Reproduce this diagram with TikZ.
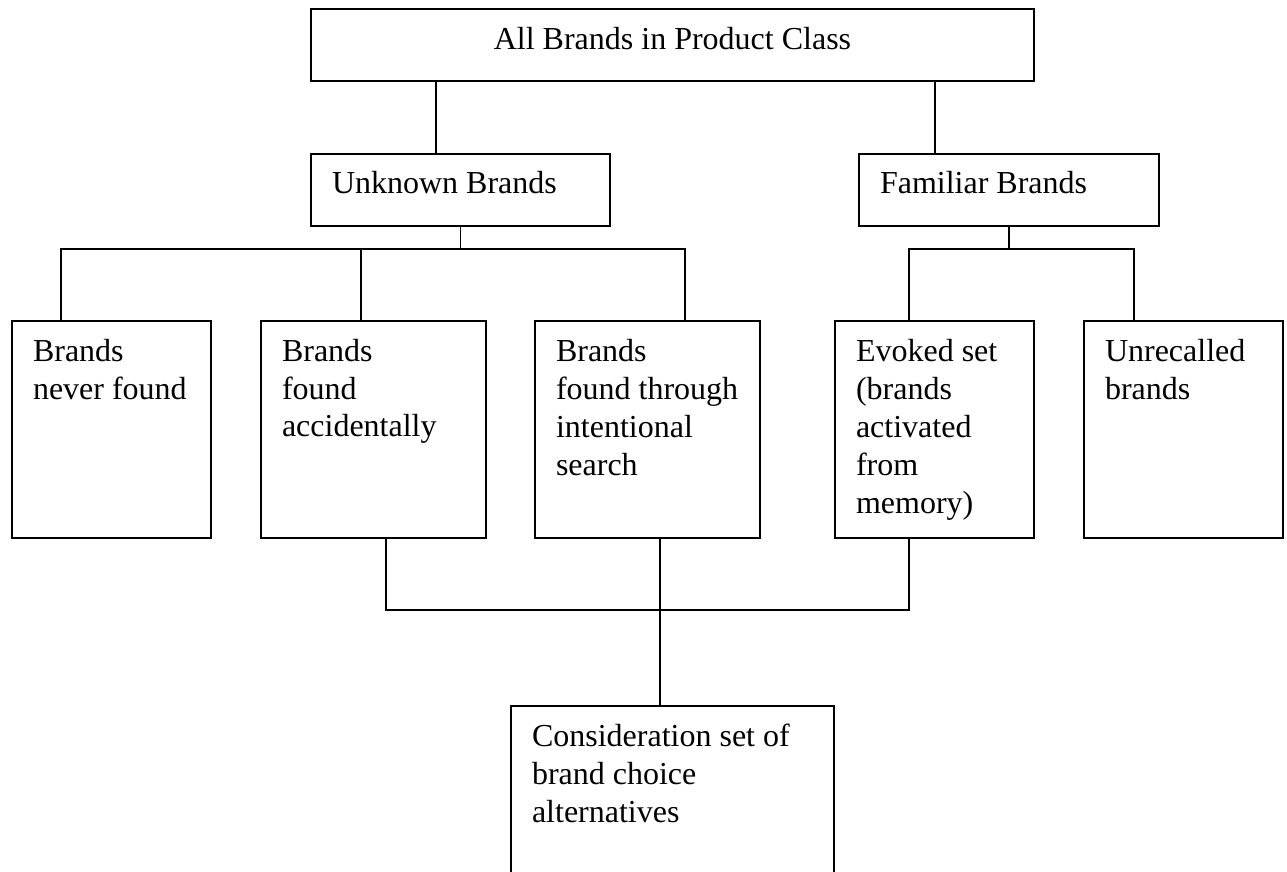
\documentclass[tikz,border=0pt]{standalone}
\usepackage{fontspec}
\setmainfont{Liberation Serif}
\usetikzlibrary{calc}
\tikzset{
  box/.style={draw, line width=0.9pt, inner sep=0, outer sep=0, anchor=north west},
  txt/.style={inner sep=0, outer sep=0, align=left, font=\fontsize{16}{19}\selectfont},
  conn/.style={line width=0.9pt}
}
\begin{document}
\begin{tikzpicture}[x=0.5pt, y=-0.5pt]
\useasboundingbox (0,0) rectangle (1287,872);
\fill[white] (0,0) rectangle (1287,872);
\clip (0,0) rectangle (1287,872);

% boxes
\node[box, minimum width=361.5pt, minimum height=36pt] (top) at (311,9) {};
\node[box, minimum width=149.5pt, minimum height=36pt] (un) at (311,154) {};
\node[box, minimum width=150pt, minimum height=36pt] (fa) at (859,154) {};
\node[box, minimum width=99.5pt, minimum height=108.5pt] (b1) at (12,321) {};
\node[box, minimum width=112.5pt, minimum height=108.5pt] (b2) at (261,321) {};
\node[box, minimum width=112.5pt, minimum height=108.5pt] (b3) at (535,321) {};
\node[box, minimum width=99.5pt, minimum height=108.5pt] (b4) at (835,321) {};
\node[box, minimum width=99.5pt, minimum height=108.5pt] (b5) at (1084,321) {};
\node[box, minimum width=161.5pt, minimum height=110pt] (cs) at (511,706) {};

% texts
\node[txt, anchor=base] (topt) at ($(top.north)+(0,41)$) {All Brands in Product Class};
\node[txt, anchor=north west] (unt) at ($(un.north west)+(21,13.4)$) {\strut Unknown Brands};
\node[txt, anchor=north west] (fat) at ($(fa.north west)+(21,13.4)$) {\strut Familiar Brands};
\node[txt, anchor=north west] (b1t) at ($(b1.north west)+(21,13.4)$) {\strut Brands\\never found};
\node[txt, anchor=north west] (b2t) at ($(b2.north west)+(21,13.4)$) {\strut Brands\\found\\accidentally};
\node[txt, anchor=north west] (b3t) at ($(b3.north west)+(21,13.4)$) {\strut Brands\\found through\\intentional\\search};
\node[txt, anchor=north west] (b4t) at ($(b4.north west)+(21,13.4)$) {\strut Evoked set\\(brands\\activated\\from\\memory)};
\node[txt, anchor=north west] (b5t) at ($(b5.north west)+(21,13.4)$) {\strut Unrecalled\\brands};
\node[txt, anchor=north west] (cst) at ($(cs.north west)+(21,13.4)$) {\strut Consideration set of\\brand choice\\alternatives};

% junction coordinates
\coordinate (tU) at (436,117);
\coordinate (tF) at (935,117);
\coordinate (uL) at (61,249);
\coordinate (uM) at (361,249);
\coordinate (uR) at (685,249);
\coordinate (fL) at (909,249);
\coordinate (fR) at (1134,249);
\coordinate (cL) at (386,610);
\coordinate (cM) at (660,610);
\coordinate (cR) at (909,610);

% connectors
\draw[conn] (top.south -| tU) -- (un.north -| tU);
\draw[conn] (top.south -| tF) -- (fa.north -| tF);
\draw[conn] (un.south) -- (un.south |- uM);
\draw[conn] (b1.north -| uL) -- (uL) -- (uR) -- (b3.north -| uR);
\draw[conn] (uM) -- (b2.north -| uM);
\draw[conn] (fa.south) -- (fa.south |- fL);
\draw[conn] (b4.north -| fL) -- (fL) -- (fR) -- (b5.north -| fR);
\draw[conn] (b2.south -| cL) -- (cL) -- (cR) -- (b4.south -| cR);
\draw[conn] (b3.south -| cM) -- (cs.north -| cM);
\end{tikzpicture}
\end{document}
